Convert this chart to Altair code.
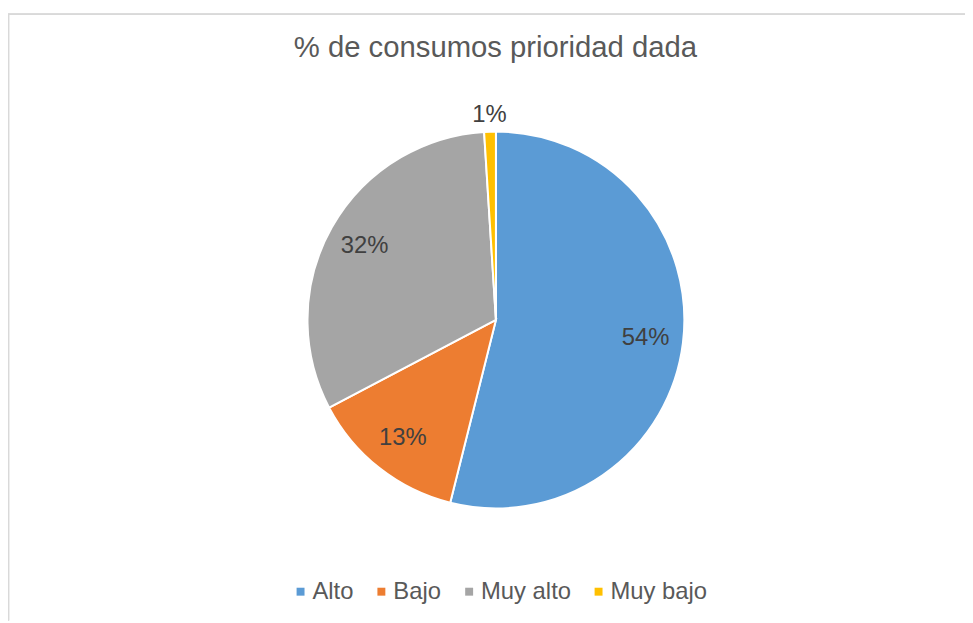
import altair as alt
import pandas as pd

# data
categories = ["Alto", "Bajo", "Muy alto", "Muy bajo"]
values = [53.9, 13.4, 31.7, 1.0]
colors = ["#5B9BD5", "#ED7D31", "#A5A5A5", "#FFC000"]
title_text = "% de consumos prioridad dada"

df = pd.DataFrame({"cat": categories, "value": values, "idx": list(range(len(categories)))})

W, H = 965, 553
CX, CY = 492, 250
R = 190

base = alt.Chart(df)

theta = alt.Theta("value:Q", stack=True)
order = alt.Order("idx:Q")

pie = base.mark_arc(outerRadius=R, stroke="white", strokeWidth=2).encode(
    theta=theta,
    order=order,
    x=alt.value(CX),
    y=alt.value(CY),
    color=alt.Color(
        "cat:N",
        scale=alt.Scale(domain=categories, range=colors),
        legend=alt.Legend(
            title=None,
            orient="none",
            direction="horizontal",
            legendX=283,
            legendY=512,
            symbolType="square",
            symbolSize=64,
            symbolStrokeWidth=0,
            labelFontSize=24,
            labelFont="Liberation Sans",
            labelColor="#595959",
            columnPadding=15.5,
            labelOffset=0,
        ),
    ),
)

lab = base.transform_calculate(
    lbl="format(datum.value/100, '.0%')"
)

inner = lab.transform_calculate(
    t="datum.value >= 5 ? datum.lbl : ''"
).mark_text(fontSize=24, font="Liberation Sans", color="#404040").encode(
    theta=theta,
    order=order,
    x=alt.value(CX),
    y=alt.value(CY),
    radius=alt.value(152),
    text="t:N",
)

outer = lab.transform_calculate(
    t="datum.value < 5 ? datum.lbl : ''"
).mark_text(fontSize=24, font="Liberation Sans", color="#404040").encode(
    theta=theta,
    order=order,
    x=alt.value(CX),
    y=alt.value(CY),
    radius=alt.value(207),
    text="t:N",
)

frame_top = base.mark_rule(color="#D9D9D9", strokeWidth=1.3).encode(
    x=alt.value(0), x2=alt.value(W), y=alt.value(-58.5)
)
frame_left = base.mark_rule(color="#D9D9D9", strokeWidth=1.3).encode(
    x=alt.value(0.5), y=alt.value(-58.5), y2=alt.value(H)
)

chart = alt.layer(frame_top, frame_left, pie, inner, outer).properties(
    width=W,
    height=H,
    autosize=alt.AutoSizeParams(type="none"),
    padding={"left": 0, "top": 62, "right": 0, "bottom": 0},
    title=alt.TitleParams(
        text=title_text,
        anchor="middle",
        fontSize=29.5,
        font="Liberation Sans",
        fontWeight="normal",
        color="#595959",
        baseline="alphabetic",
        offset=13,
        dy=86,
        dx=9,
    ),
).configure_view(stroke=None)

chart.save("out.html", embed_options={"renderer": "svg", "actions": False})
